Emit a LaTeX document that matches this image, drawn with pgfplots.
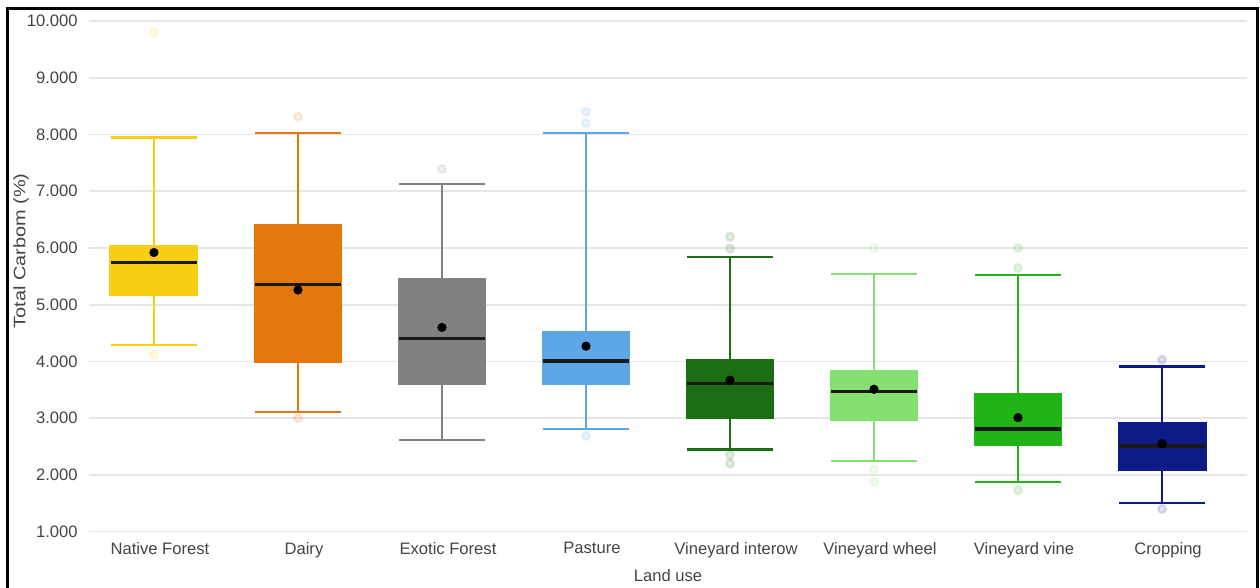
\documentclass[border=0pt]{standalone}
\usepackage{graphicx}
\usepackage{pgfplots}
\pgfplotsset{compat=1.18}
\usepgfplotslibrary{statistics}
\usepackage{fontspec}
\setmainfont{Liberation Sans}

\definecolor{cNF}{HTML}{F8CE14}
\definecolor{cDA}{HTML}{E3780E}
\definecolor{cEX}{HTML}{808080}
\definecolor{cPA}{HTML}{5EA7E6}
\definecolor{cVI}{HTML}{1B6E12}
\definecolor{cVW}{HTML}{85E072}
\definecolor{cVV}{HTML}{22B318}
\definecolor{cCR}{HTML}{0D1A85}
\definecolor{gridc}{HTML}{E6E6E6}
\definecolor{labc}{HTML}{444444}

\pgfplotsset{
  mybox/.style={
    draw=#1, line width=1.25bp,
    mark=*, mark size=2bp,
    mark options={draw=none, fill=#1, opacity=0.12},
    boxplot/draw direction=y,
    boxplot/every box/.style={draw=#1, fill=#1},
    boxplot/every whisker/.style={draw=#1, line width=1.25bp},
    boxplot/every median/.style={draw=black!90, line width=1.6bp},
  }
}

\begin{document}
\begin{tikzpicture}
\useasboundingbox (0,0) rectangle (630bp,294bp);
\begin{axis}[
  at={(44.5bp,28.15bp)}, anchor=south west,
  width=579bp, height=255.35bp, scale only axis,
  xmin=-0.451, xmax=7.59, ymin=1, ymax=10,
  ytick={1,2,3,4,5,6,7,8,9,10},
  yticklabels={1.000,2.000,3.000,4.000,5.000,6.000,7.000,8.000,9.000,10.000},
  xtick={0,1,2,3,4,5,6,7},
  xticklabels={Native Forest,Dairy,Exotic Forest,Pasture,Vineyard interow,Vineyard wheel,Vineyard vine,Cropping},
  axis line style={draw=none},
  major tick length=0pt,
  ymajorgrids, xmajorgrids=false,
  grid style={draw=gridc, line width=0.8bp},
  tick label style={font=\fontsize{8.3bp}{10bp}\selectfont, text=labc, inner sep=0pt},
  yticklabel style={xshift=-5.5bp},
  xticklabel style={yshift=-5bp, xshift=3bp},
  xlabel={Land use},
  xlabel style={at={(axis description cs:0.5,0)}, anchor=north, yshift=-18.5bp, inner sep=0pt, font=\fontsize{8.3bp}{10bp}\selectfont, text=labc},
  ylabel={\scalebox{1.2}[1]{Total Carbom (\%)}},
  ylabel style={at={(axis description cs:-0.0587,0.55)}, anchor=center, inner sep=0pt, font=\fontsize{8.3bp}{10bp}\selectfont, text=labc},
  clip=false,
]
\addplot[mybox=cNF, boxplot prepared={draw position=0, median=5.75, upper quartile=6.03, lower quartile=5.17, upper whisker=7.95, lower whisker=4.29, box extend=0.6, whisker extend=0.6}]
  table[row sep=\\, y index=0] {data\\ 9.80\\ 4.12\\};
\addplot[mybox=cDA, boxplot prepared={draw position=1, median=5.35, upper quartile=6.40, lower quartile=4.00, upper whisker=8.03, lower whisker=3.11, box extend=0.6, whisker extend=0.6}]
  table[row sep=\\, y index=0] {data\\ 8.31\\ 3.00\\};
\addplot[mybox=cEX, boxplot prepared={draw position=2, median=4.41, upper quartile=5.45, lower quartile=3.60, upper whisker=7.13, lower whisker=2.62, box extend=0.6, whisker extend=0.6}]
  table[row sep=\\, y index=0] {data\\ 7.39\\};
\addplot[mybox=cPA, boxplot prepared={draw position=3, median=4.01, upper quartile=4.52, lower quartile=3.60, upper whisker=8.03, lower whisker=2.81, box extend=0.6, whisker extend=0.6}]
  table[row sep=\\, y index=0] {data\\ 8.40\\ 8.20\\ 2.69\\};
\addplot[mybox=cVI, boxplot prepared={draw position=4, median=3.61, upper quartile=4.02, lower quartile=3.01, upper whisker=5.84, lower whisker=2.45, box extend=0.6, whisker extend=0.6}]
  table[row sep=\\, y index=0] {data\\ 6.20\\ 5.99\\ 2.35\\ 2.20\\};
\addplot[mybox=cVW, boxplot prepared={draw position=5, median=3.47, upper quartile=3.83, lower quartile=2.98, upper whisker=5.54, lower whisker=2.25, box extend=0.6, whisker extend=0.6}]
  table[row sep=\\, y index=0] {data\\ 6.00\\ 2.10\\ 1.88\\};
\addplot[mybox=cVV, boxplot prepared={draw position=6, median=2.81, upper quartile=3.43, lower quartile=2.53, upper whisker=5.52, lower whisker=1.88, box extend=0.6, whisker extend=0.6}]
  table[row sep=\\, y index=0] {data\\ 6.00\\ 5.65\\ 1.73\\};
\addplot[mybox=cCR, boxplot prepared={draw position=7, median=2.51, upper quartile=2.92, lower quartile=2.09, upper whisker=3.91, lower whisker=1.51, box extend=0.6, whisker extend=0.6}]
  table[row sep=\\, y index=0] {data\\ 4.03\\ 1.40\\};
\addplot[only marks, mark=*, mark size=2.1bp, draw=black, fill=black]
  coordinates {(0,5.92) (1,5.26) (2,4.60) (3,4.27) (4,3.67) (5,3.51) (6,3.01) (7,2.55)};
\end{axis}
\draw[line width=1.5bp] (3.5bp,-3bp) -- (3.5bp,289.5bp) -- (628.5bp,289.5bp) -- (628.5bp,-3bp);
\end{tikzpicture}
\end{document}
